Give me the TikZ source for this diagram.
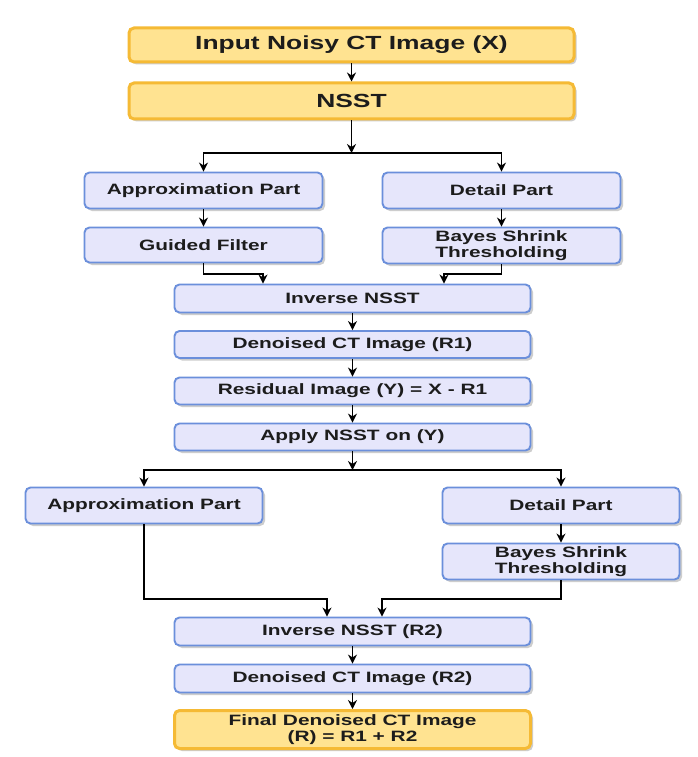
\documentclass[tikz,border=0pt]{standalone}
\usepackage{fontspec}
\setmainfont{Liberation Sans}[FakeStretch=1.39]
\usetikzlibrary{arrows.meta,shadows,calc}
\definecolor{yfill}{HTML}{FFE391}
\definecolor{ydraw}{HTML}{F5BA35}
\definecolor{bfill}{HTML}{E6E6FB}
\definecolor{bdraw}{HTML}{6B8FDB}
\definecolor{txt}{HTML}{1C1C1C}
\begin{document}
\begin{tikzpicture}[x=1pt,y=-1pt,
  base/.style={rounded corners=5pt,inner sep=0pt,align=center,text=txt,font=\fontsize{15}{16}\selectfont\bfseries,
    drop shadow={shadow xshift=2.5pt,shadow yshift=-2.5pt,opacity=0.28,fill=black!70}},
  ybox/.style={base,fill=yfill,draw=ydraw,line width=3pt},
  bbox/.style={base,fill=bfill,draw=bdraw,line width=1.9pt},
  arr/.style={line width=1.3pt,-{Stealth[length=9pt,width=9pt]}},
  ln/.style={line width=1.3pt}]
\fill[white] (0,0) rectangle (697,757);
\useasboundingbox (0,0) rectangle (697,757);

\node[ybox,minimum width=445pt,minimum height=34pt,font=\fontsize{19}{21}\selectfont\bfseries] (in) at (351.5,45) {Input Noisy CT Image (X)};
\node[ybox,minimum width=445pt,minimum height=36pt,font=\fontsize{19}{21}\selectfont\bfseries] (nsst) at (351.5,101) {NSST};

\node[bbox,minimum width=238pt,minimum height=36pt] (ap1) at (203.5,190.5) {Approximation Part};
\node[bbox,minimum width=238pt,minimum height=36pt] (dp1) at (501.5,190.5) {Detail Part};
\node[bbox,minimum width=238pt,minimum height=35pt] (gf) at (203.5,245) {Guided Filter};
\node[bbox,minimum width=238pt,minimum height=36pt] (bs1) at (501.5,245.5) {Bayes Shrink\\Thresholding};

\node[bbox,minimum width=356pt,minimum height=28pt] (inv1) at (352.5,298.5) {Inverse NSST};
\node[bbox,minimum width=356pt,minimum height=27pt] (den1) at (352.5,344.5) {Denoised CT Image (R1)};
\node[bbox,minimum width=356pt,minimum height=27pt] (res) at (352.5,391) {Residual Image (Y) = X - R1};
\node[bbox,minimum width=356pt,minimum height=27pt] (app) at (352.5,437) {Apply NSST on (Y)};

\node[bbox,minimum width=237pt,minimum height=36pt] (ap2) at (144,505.5) {Approximation Part};
\node[bbox,minimum width=237pt,minimum height=36pt] (dp2) at (561,505.5) {Detail Part};
\node[bbox,minimum width=237pt,minimum height=36pt] (bs2) at (561,561.5) {Bayes Shrink\\Thresholding};

\node[bbox,minimum width=356pt,minimum height=28pt] (inv2) at (352.5,631.5) {Inverse NSST (R2)};
\node[bbox,minimum width=356pt,minimum height=28pt] (den2) at (352.5,678.5) {Denoised CT Image (R2)};
\node[ybox,minimum width=356pt,minimum height=38pt] (fin) at (352.5,729.5) {Final Denoised CT Image\\(R) = R1 + R2};

% connectors
\draw[arr] (in) -- (nsst);
\coordinate (s1) at (351.5,153);
\draw[arr] (nsst) -- (s1);
\draw[arr] (s1) -| (ap1);
\draw[arr] (s1) -| (dp1);
\draw[arr] (ap1) -- (gf);
\draw[arr] (dp1) -- (bs1);
\coordinate (m1a) at (263,274);
\coordinate (m1b) at (444,274);
\draw[arr] (gf.south) |- (m1a) -- (m1a |- inv1.north);
\draw[arr] (bs1.south) |- (m1b) -- (m1b |- inv1.north);
\draw[arr] (inv1) -- (den1);
\draw[arr] (den1) -- (res);
\draw[arr] (res) -- (app);
\coordinate (s2) at (352.5,470);
\draw[arr] (app) -- (s2);
\draw[arr] (s2) -| (ap2);
\draw[arr] (s2) -| (dp2);
\draw[arr] (dp2) -- (bs2);
\coordinate (m2a) at (327,599);
\coordinate (m2b) at (382,599);
\draw[arr] (ap2.south) |- (m2a) -- (m2a |- inv2.north);
\draw[arr] (bs2.south) |- (m2b) -- (m2b |- inv2.north);
\draw[arr] (inv2) -- (den2);
\draw[arr] (den2) -- (fin);
\end{tikzpicture}
\end{document}
